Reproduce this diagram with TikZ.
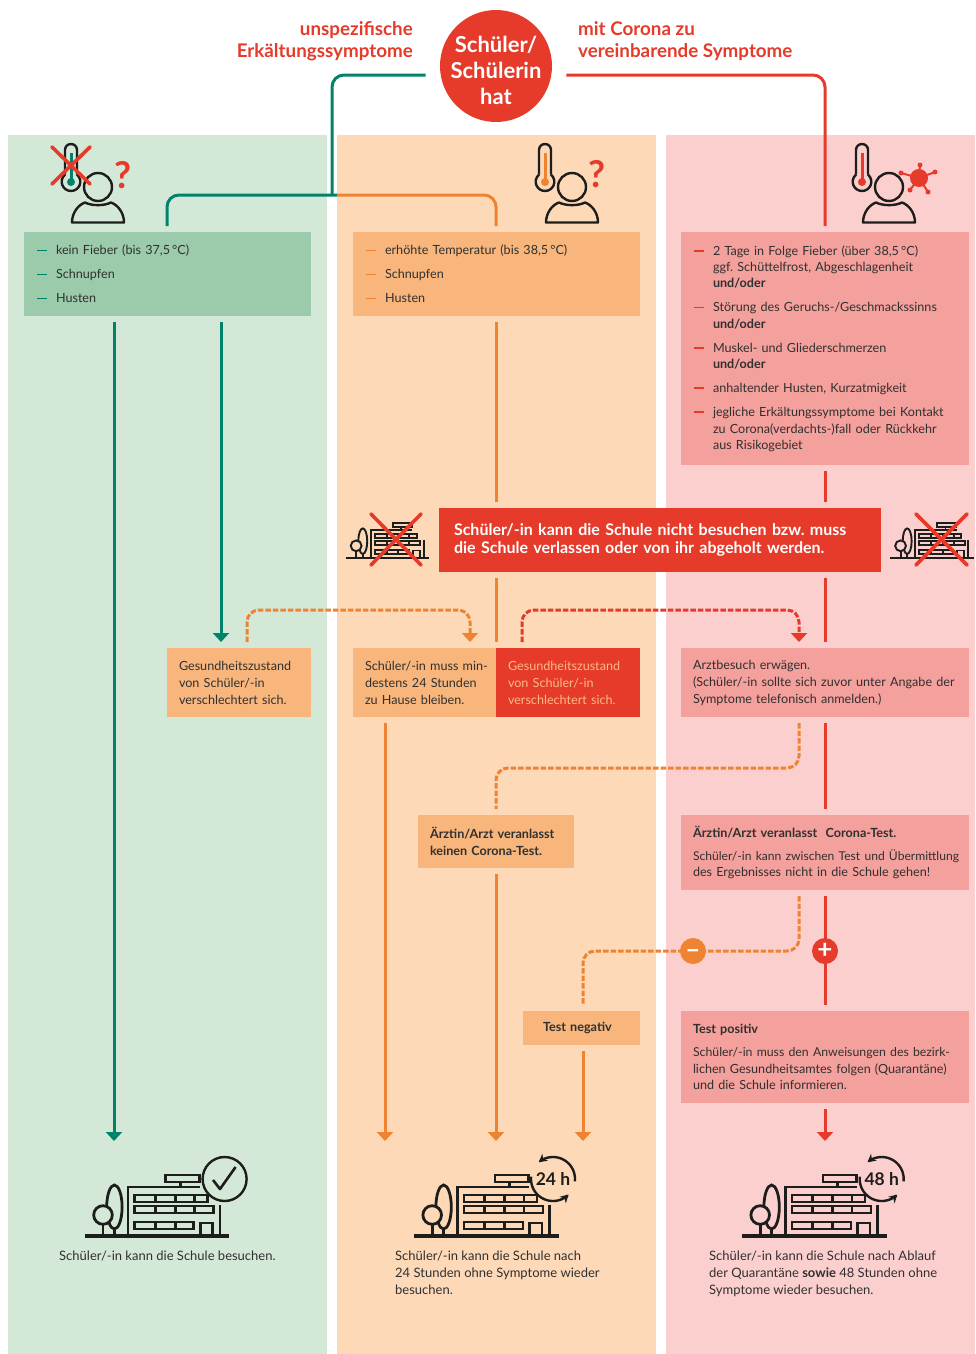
\documentclass[tikz,border=0pt]{standalone}
\usepackage{fontspec}
\setmainfont{Lato}
\usetikzlibrary{arrows.meta,shapes.geometric}
\definecolor{gbg}{HTML}{D4E8D8}\definecolor{gbox}{HTML}{9CCBAB}\definecolor{gln}{HTML}{00836A}
\definecolor{obg}{HTML}{FDD9B8}\definecolor{obox}{HTML}{F8B67C}\definecolor{oln}{HTML}{EE8432}
\definecolor{rbg}{HTML}{FCCFCF}\definecolor{rbox}{HTML}{F4A09C}\definecolor{rln}{HTML}{E63A2A}
\definecolor{ink}{HTML}{1D1D1B}\definecolor{txt}{HTML}{303030}\definecolor{paleo}{HTML}{FBB98A}
\newcommand{\bul}[1]{\makebox[19pt][l]{\textcolor{#1}{\rule[3.4pt]{10pt}{1.9pt}}}}
\newcommand{\ind}{\hspace*{19pt}}
\newcommand{\personIcon}[3]{%
 \begin{scope}[shift={(#1,#2)},line width=2.4pt,draw=ink]
  \draw[#3,line width=3pt] (-27,-34) -- (-27,-6);
  \fill[#3] (-27,-5) circle (4);
  \draw[rounded corners=5.9pt] (-21,-12.4) -- (-21,-43) -- (-33,-43) -- (-33,-12.4);
  \draw (-33,-12.4) .. controls (-40,-6) and (-35,4) .. (-27,4) .. controls (-19,4) and (-14,-6) .. (-21,-12.4);
  \draw (0,0) circle (14);
  \draw[line join=round] (-26,35.5) .. controls (-26,26) and (-20,18) .. (-13,15.5) .. controls (-6,19) and (6,19) .. (13,15.5) .. controls (20,18) and (26,26) .. (26,35.5) -- cycle;
 \end{scope}}
\newcommand{\buildingIcon}[5]{%
 \begin{scope}[shift={(#1,#2)},scale=#3,line width=#4,draw=ink]
  \draw (29.6,-29) ellipse [x radius=7.7,y radius=22];
  \draw (29.6,-7) -- (29.6,0);
  \draw[fill=#5] (18.2,-21) circle (9.3);
  \draw (18.2,-12) -- (18.2,0);
  \draw (114.7,-49) -- (43.2,-49) -- (43.2,0);
  \draw (135.2,-31) -- (135.2,0);
  \draw (81,-61) rectangle (114.7,-54);
  \draw (95.7,-54) -- (95.7,-49);
  \draw (50,-41) rectangle (123,-34);
  \draw (50,-30) rectangle (129,-23);
  \draw (50,-14) rectangle (109,-7);
  \foreach \vx in {70.6,90.6,110}{\draw (\vx,-41) -- (\vx,-34); \draw (\vx,-30) -- (\vx,-23);}
  \foreach \vx in {70.6,90.6}{\draw (\vx,-14) -- (\vx,-7);}
  \draw (115.7,0) -- (115.7,-13) -- (128,-13) -- (128,0);
  \draw[line width=1.25*#4] (0,0) -- (144.6,0);
 \end{scope}}
\newcommand{\clockIcon}[4]{%
 \begin{scope}[shift={(#1,#2)},line width=2.4pt,draw=ink]
  \draw[-{Stealth[length=8pt,width=9pt]}] plot[smooth,domain=6:-130,samples=28] ({22*cos(\x)},{22*sin(\x)});
  \draw[-{Stealth[length=8pt,width=9pt]}] plot[smooth,domain=186:45,samples=28] ({22*cos(\x)},{22*sin(\x)});
  \node[bigicontext] (#4) at (0,0) {#3};
 \end{scope}}
\tikzset{
 x=1pt,y=-1pt,
 box/.style={rectangle,anchor=north west,xshift=-6pt,yshift=6pt,inner xsep=12pt,inner ysep=0pt,outer sep=6pt,align=left,text=txt,font=\fontsize{12.6}{17}\selectfont},
 bodytext/.style={anchor=north west,inner sep=0pt,align=left,text=txt,font=\fontsize{13}{17}\selectfont},
 headtext/.style={inner sep=0pt,text=rln,font=\fontsize{18.8}{22}\selectfont\bfseries},
 bigicontext/.style={inner sep=0pt,text=ink,font=\fontsize{17.5}{18}\selectfont\bfseries},
 qmark/.style={inner sep=0pt,text=rln,font=\fontsize{37}{40}\selectfont\bfseries},
 conn/.style={line width=3pt,rounded corners=12pt},
 greenline/.style={conn,draw=gln},
 orangeline/.style={conn,draw=oln},
 redline/.style={conn,draw=rln},
 dashline/.style={dash pattern=on 5.5pt off 2pt},
 withtip/.style={-{Triangle[width=16pt,length=9pt]}},
 crossline/.style={draw=rln,line width=3.6pt,line cap=round},
}
\begin{document}
\frenchspacing
\begin{tikzpicture}
\useasboundingbox (0,0) rectangle (975,1354);
\fill[white] (0,0) rectangle (975,1354);
\fill[gbg] (8,135) rectangle (327,1354);
\fill[obg] (337,135) rectangle (656,1354);
\fill[rbg] (666,135) rectangle (975,1354);

% columns used by the connectors
\coordinate (xA) at (114,0); \coordinate (xB) at (221,0); \coordinate (xC) at (167,0);
\coordinate (xD) at (247,0); \coordinate (xE) at (470,0); \coordinate (xM) at (496,0);
\coordinate (xF) at (385,0); \coordinate (xG) at (522,0); \coordinate (xH) at (799,0);
\coordinate (xR) at (825,0); \coordinate (xN) at (583,0);

% heading
\node[circle,fill=rln,minimum size=112pt,inner sep=0pt,outer sep=15pt] (start) at (496,66) {};
\node[inner sep=0pt,text=white,align=center,font=\fontsize{22}{26}\selectfont\bfseries] (startText) at (496,70) {Schüler/\\Schülerin\\hat};
\node[headtext,anchor=east,align=right] (headL) at (413,41) {unspezifische\\Erkältungssymptome};
\node[headtext,anchor=west,align=left] (headR) at (578,41) {mit Corona zu\\vereinbarende Symptome};

% symptom boxes
\node[box,inner xsep=13pt,fill=gbox,minimum width=287pt,minimum height=84pt,text width=261pt] (symG) at (24,232)
 {\bul{gln}kein Fieber (bis 37,5\,°C)\\[7pt]\bul{gln}Schnupfen\\[7pt]\bul{gln}Husten};
\node[box,inner xsep=13pt,fill=obox,minimum width=287pt,minimum height=84pt,text width=261pt] (symO) at (353,232)
 {\bul{oln}erhöhte Temperatur (bis 38,5\,°C)\\[7pt]\bul{oln}Schnupfen\\[7pt]\bul{oln}Husten};
\node[box,inner xsep=13pt,fill=rbox,minimum width=288pt,minimum height=233pt,text width=262pt,font=\fontsize{12.6}{16.4}\selectfont] (symR) at (681,232)
 {\bul{rln}2 Tage in Folge Fieber (über 38,5\,°C)\\\ind ggf. Schüttelfrost, Abgeschlagenheit\\\ind\textbf{und/oder}\\[7.6pt]
  \bul{rln}Störung des Geruchs-/Geschmackssinns\\\ind\textbf{und/oder}\\[7.6pt]
  \bul{rln}Muskel- und Gliederschmerzen\\\ind\textbf{und/oder}\\[7.6pt]
  \bul{rln}anhaltender Husten, Kurzatmigkeit\\[7.6pt]
  \bul{rln}jegliche Erkältungssymptome bei Kontakt\\\ind zu Corona(verdachts-)fall oder Rückkehr\\\ind aus Risikogebiet};

% banner
\node[box,fill=rln,inner xsep=15pt,minimum width=442pt,minimum height=64pt,text width=412pt,text=white,font=\fontsize{16}{18.5}\selectfont\bfseries] (banner) at (439,508)
 {Schüler/-in kann die Schule nicht besuchen bzw. muss\\die Schule verlassen oder von ihr abgeholt werden.};

% middle row
\node[box,fill=obox,minimum width=144pt,minimum height=69pt,text width=120pt] (gesG) at (167,648) {Gesundheitszustand\\von Schüler/-in\\verschlechtert sich.};
\node[box,fill=obox,minimum width=143pt,minimum height=69pt,text width=119pt] (stay) at (353,648) {\makebox[0pt][l]{Schüler/-in muss min-}\\destens 24 Stunden\\zu Hause bleiben.};
\node[box,fill=rln,minimum width=144pt,minimum height=69pt,text width=120pt,text=paleo] (gesR) at (496,648) {Gesundheitszustand\\von Schüler/-in\\verschlechtert sich.};
\node[box,fill=rbox,minimum width=288pt,minimum height=69pt,text width=264pt] (arzt) at (681,648) {Arztbesuch erwägen.\\(Schüler/-in sollte sich zuvor unter Angabe der\\Symptome telefonisch anmelden.)};

% doctor decision
\node[box,fill=obox,minimum width=156pt,minimum height=53pt,text width=132pt] (noTest) at (418,815) {\textbf{Ärztin/Arzt veranlasst}\\\textbf{keinen Corona-Test.}};
\node[box,fill=rbox,minimum width=288pt,minimum height=75pt,text width=264pt,font=\fontsize{12.6}{16.4}\selectfont] (yesTest) at (681,815) {\textbf{Ärztin/Arzt veranlasst\ \ Corona-Test.}\\[7pt]\makebox[0pt][l]{\fontsize{12.1}{16.4}\selectfont Schüler/-in kann zwischen Test und Übermittlung}\\des Ergebnisses nicht in die Schule gehen!};
\node[box,fill=obox,inner xsep=20pt,minimum width=117pt,minimum height=34pt,text width=77pt] (testN) at (523,1011) {\textbf{Test negativ}};
\node[box,fill=rbox,minimum width=288pt,minimum height=92pt,text width=264pt,font=\fontsize{12.6}{16.4}\selectfont] (testP) at (681,1011) {\textbf{Test positiv}\\[7pt]\makebox[0pt][l]{\fontsize{12.3}{16.4}\selectfont Schüler/-in muss den Anweisungen des bezirk-}\\lichen Gesundheitsamtes folgen (Quarantäne)\\und die Schule informieren.};

% end points and bends
\coordinate (endA) at (114,1141); \coordinate (endF) at (385,1141); \coordinate (endM) at (496,1141);
\coordinate (endN) at (583,1141); \coordinate (endR) at (825,1141);
\coordinate (upL) at (332,75); \coordinate (crossG) at (332,195); \coordinate (seam) at (337,195);
\coordinate (bendC) at (167,195); \coordinate (bendM) at (496,195); \coordinate (bendR) at (825,75);
\coordinate (dA) at (247,610); \coordinate (dB) at (470,610); \coordinate (dC) at (522,610); \coordinate (dD) at (799,610);
\coordinate (dE) at (799,768); \coordinate (dF) at (496,768); \coordinate (dG) at (799,951); \coordinate (dH) at (583,951);

% connectors
\draw[greenline] (start.187.3 |- upL) -- (upL) -- (crossG);
\draw[greenline] (symG.north -| xC) -- (bendC) -- (seam);
\draw[orangeline] (seam) -- (bendM) -- (symO.north -| xM);
\draw[redline] (start.352.7 |- bendR) -- (bendR) -- (symR.north -| xR);
\draw[greenline,withtip] (symG.south -| xA) -- (endA);
\draw[greenline,withtip] (symG.south -| xB) -- (gesG.north -| xB);
\draw[orangeline] (symO.south -| xM) -- (banner.north -| xM);
\draw[orangeline] (banner.south -| xM) -- (stay.north -| xM);
\draw[redline] (symR.south -| xR) -- (banner.north -| xR);
\draw[redline] (banner.south -| xR) -- (arzt.north -| xR);
\draw[redline] (arzt.south -| xR) -- (yesTest.north -| xR);
\draw[redline] (yesTest.south -| xR) -- (testP.north -| xR);
\draw[redline,withtip] (testP.south -| xR) -- (endR);
\draw[orangeline,withtip] (stay.south -| xF) -- (endF);
\draw[orangeline,withtip] (noTest.south -| xM) -- (endM);
\draw[orangeline,withtip] (testN.south -| xN) -- (endN);
\draw[orangeline,dashline,withtip] (gesG.north -| xD) -- (dA) -- (dB) -- (stay.north -| xE);
\draw[redline,dashline,withtip] (gesR.north -| xG) -- (dC) -- (dD) -- (arzt.north -| xH);
\draw[orangeline,dashline] (arzt.south -| xH) -- (dE) -- (dF) -- (noTest.north -| xM);
\draw[orangeline,dashline] (yesTest.south -| xH) -- (dG) -- (dH) -- (testN.north -| xN);
\node[circle,fill=oln,minimum size=26pt,inner sep=0pt,text=white,font=\fontsize{26}{26}\selectfont\bfseries] (minus) at (693,951) {\raisebox{-7pt}[0pt][0pt]{–}};
\node[circle,fill=rln,minimum size=26pt,inner sep=0pt,text=white,font=\fontsize{26}{26}\selectfont\bfseries] (plus) at (825,951) {+};

% person icons
\personIcon{98}{187}{gln}
\draw[crossline] (52,147) -- (90,184) (90,147) -- (52,184);
\node[qmark] (qG) at (123,175) {?};
\personIcon{572}{187}{oln}
\node[qmark] (qO) at (597,174) {?};
\personIcon{889}{187}{rln}
\fill[rln] (919,178) circle (9);
\foreach \vdx/\vdy in {-18/-5,1/-13,16/-6,9/14,-9/12}{
 \draw[rln,line width=2pt] (919,178) -- ++(\vdx,\vdy);
 \fill[rln] (919,178) ++(\vdx,\vdy) circle (2.5);}

% crossed schools beside the banner
\buildingIcon{345.6}{558}{.58}{1.9pt}{obg}
\draw[crossline] (371,514) -- (421,565) (421,514) -- (371,565);
\buildingIcon{890}{558}{.58}{1.9pt}{rbg}
\draw[crossline] (916,514) -- (967,565) (967,514) -- (916,565);

% outcome schools
\buildingIcon{84.8}{1236}{1}{2.8pt}{gbg}
\draw[ink,line width=2.4pt] (224.6,1179) circle (22);
\draw[ink,line width=2.6pt,line join=round] (213,1180) -- (220,1189) -- (235.6,1167);
\buildingIcon{414}{1236}{1}{2.8pt}{obg}
\clockIcon{553}{1179}{24 h}{clockA}
\buildingIcon{742}{1236}{1}{2.8pt}{rbg}
\clockIcon{881.7}{1179}{48 h}{clockB}

\node[bodytext] (resG) at (59,1251) {Schüler/-in kann die Schule besuchen.};
\node[bodytext] (resO) at (395,1251) {Schüler/-in kann die Schule nach\\24 Stunden ohne Symptome wieder\\besuchen.};
\node[bodytext] (resR) at (709,1251) {Schüler/-in kann die Schule nach Ablauf\\der Quarantäne \textbf{sowie} 48 Stunden ohne\\Symptome wieder besuchen.};
\end{tikzpicture}
\end{document}
